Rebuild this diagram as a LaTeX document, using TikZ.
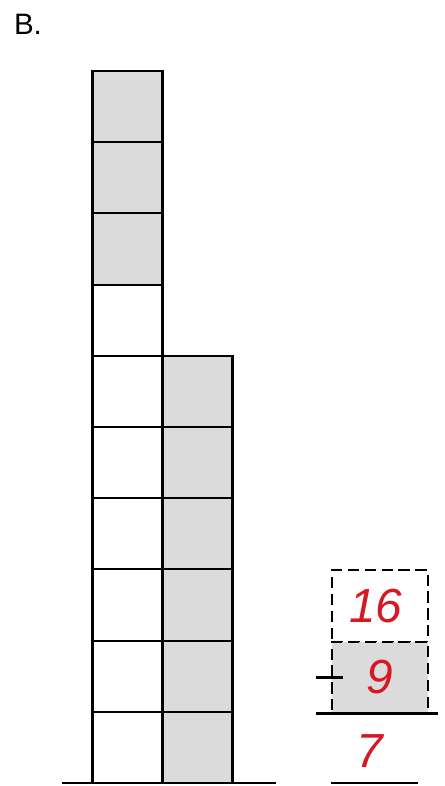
\documentclass[tikz,border=0pt]{standalone}
\usepackage{fontspec}
\setmainfont{Liberation Sans}
\usetikzlibrary{positioning,calc}
\definecolor{pen}{RGB}{214,24,34}

\begin{document}
\begin{tikzpicture}[x=0.025cm, y=-0.025cm,
	cell/.style={draw, line width=1.5pt, minimum width=1.75cm, minimum height=1.78cm, inner sep=0pt, outer sep=0pt},
	dots/.style={fill=black!14},
	dbox/.style={draw, line width=1.4pt, dash pattern=on 8pt off 4pt, minimum width=2.4cm, minimum height=1.78cm, inner sep=0pt, outer sep=0pt},
	num/.style={text=pen, font=\fontsize{34}{38}\selectfont\itshape}]

	\useasboundingbox (0,0) rectangle (445,786);

	\node[font=\fontsize{21}{24}\selectfont] (lbl) at (28,24) {B.};

	% left column, 10 cells, top 3 shaded
	\foreach \i in {1,...,7}
		\node[cell] (l\i) at (127.5, {783-71.2*(\i-0.5)}) {};
	\foreach \i in {8,9,10}
		\node[cell, dots] (l\i) at (127.5, {783-71.2*(\i-0.5)}) {};

	% right column, 6 shaded cells
	\foreach \i in {1,...,6}
		\node[cell, dots] (r\i) at (197.5, {783-71.2*(\i-0.5)}) {};

	\draw[line width=2.4pt] (l10.north east) -- (l1.south east);
	\coordinate (base_w) at ($(l1.south west)+(-30,0)$);
	\coordinate (base_e) at ($(r1.south east)+(43,0)$);
	\draw[line width=2pt] (base_w) -- (base_e);

	% subtraction
	\node[dbox, num] (tot) at (380, 606) {\hspace*{-6pt}16};
	\node[dbox, dots, num] (sub) at (380, 677.5) {9};
	\draw[line width=2.2pt] ($(sub.west)+(-16,0)$) -- ($(sub.west)+(11,0)$);
	\coordinate (bar_w) at ($(sub.south west)+(-16,0)$);
	\coordinate (bar_e) at ($(sub.south east)+(10,0)$);
	\draw[line width=2.2pt] (bar_w) -- (bar_e);
	\node[num] (res) at (370, 751) {7};
	\coordinate (res_w) at (331,783);
	\coordinate (res_e) at (418,783);
	\draw[line width=1.8pt] (res_w) -- (res_e);
\end{tikzpicture}
\end{document}
